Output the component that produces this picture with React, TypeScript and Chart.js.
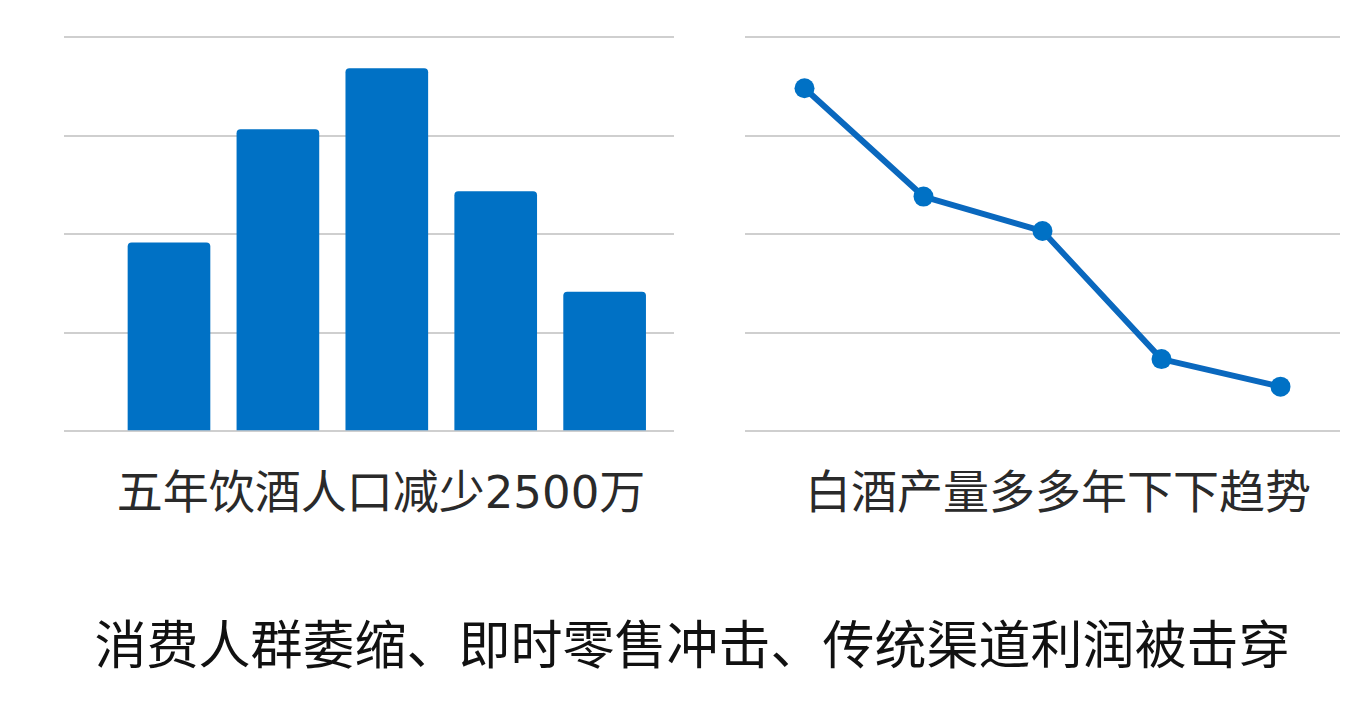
import React, { useEffect, useRef } from "react";
import { Chart, registerables } from "chart.js";

Chart.register(...registerables);

// Left chart: drinking population (relative units, gridline = 1)
const barPositions = [1, 2, 3, 4, 5];
const barValues = [1.91, 3.06, 3.68, 2.43, 1.41];

// Right chart: baijiu output trend (relative units)
const lineLabels = ["1", "2", "3", "4", "5"];
const lineValues = [3.48, 2.38, 2.03, 0.73, 0.45];

const leftTitle = "五年饮酒人口减少2500万";
const rightTitle = "白酒产量多多年下下趋势";
const caption = "消费人群萎缩、即时零售冲击、传统渠道利润被击穿";

const BLUE = "#0071C5";
const LINE_BLUE = "#0A68BE";
const GRID = "#CFCFCF";
const FONT = "'Noto Sans CJK SC', 'Noto Sans', sans-serif";

const yScale = {
  min: 0,
  max: 4,
  display: true,
  border: { display: false },
  ticks: { display: false, stepSize: 1 },
  grid: { color: GRID, lineWidth: 2, drawTicks: false },
};

function BarChart() {
  const ref = useRef<HTMLCanvasElement>(null);
  useEffect(() => {
    const chart = new Chart(ref.current!, {
      type: "bar",
      data: {
        datasets: [
          {
            data: barPositions.map((x, i) => ({ x, y: barValues[i] })),
            backgroundColor: BLUE,
            borderRadius: 4,
            barThickness: 82,
          },
        ],
      },
      options: {
        animation: false,
        responsive: true,
        maintainAspectRatio: false,
        layout: { autoPadding: false, padding: { top: 10, bottom: 10, left: 0, right: 0 } },
        plugins: { legend: { display: false }, tooltip: { enabled: false } },
        scales: {
          x: { type: "linear", min: 0.036, max: 5.637, offset: false, display: false },
          y: yScale as any,
        },
      },
    });
    return () => chart.destroy();
  }, []);
  return <canvas ref={ref} />;
}

function LineChart() {
  const ref = useRef<HTMLCanvasElement>(null);
  useEffect(() => {
    const chart = new Chart(ref.current!, {
      type: "line",
      data: {
        labels: lineLabels,
        datasets: [
          {
            data: lineValues,
            borderColor: LINE_BLUE,
            borderWidth: 6,
            pointRadius: 10,
            pointBackgroundColor: BLUE,
            pointBorderWidth: 0,
            tension: 0,
          },
        ],
      },
      options: {
        animation: false,
        responsive: true,
        maintainAspectRatio: false,
        layout: { autoPadding: false, padding: { top: 10, bottom: 10, left: 0, right: 0 } },
        plugins: { legend: { display: false }, tooltip: { enabled: false } },
        scales: {
          x: { type: "category", offset: true, display: false },
          y: yScale as any,
        },
      },
    });
    return () => chart.destroy();
  }, []);
  return <canvas ref={ref} />;
}

const titleStyle: React.CSSProperties = {
  position: "absolute",
  top: 463,
  width: 800,
  textAlign: "center",
  fontSize: 46,
  lineHeight: "50px",
  whiteSpace: "nowrap",
  color: "#2A2A2A",
};

// Digit runs use a font with wider numerals, like the reference
function renderTitle(text: string) {
  return text.split(/(\d+)/).map((part, i) =>
    /^\d+$/.test(part) ? (
      <span key={i} style={{ fontFamily: "'DejaVu Sans', sans-serif", fontSize: 45 }}>
        {part}
      </span>
    ) : (
      <span key={i}>{part}</span>
    )
  );
}

export default function App() {
  return (
    <div
      style={{
        position: "absolute",
        left: 0,
        top: 0,
        width: 1368,
        height: 716,
        background: "#fff",
        fontFamily: FONT,
        color: "#222",
        overflow: "hidden",
      }}
    >
      <div style={{ position: "absolute", left: 64, top: 27, width: 610, height: 414 }}>
        <BarChart />
      </div>
      <div style={{ position: "absolute", left: 745, top: 27, width: 595, height: 414 }}>
        <LineChart />
      </div>
      <div style={{ ...titleStyle, left: 381 - 400 }}>{renderTitle(leftTitle)}</div>
      <div style={{ ...titleStyle, left: 1058 - 400 }}>{rightTitle}</div>
      <div
        style={{
          position: "absolute",
          left: 0,
          top: 614,
          width: 1385,
          textAlign: "center",
          fontSize: 52,
          lineHeight: "56px",
          whiteSpace: "nowrap",
          color: "#111",
        }}
      >
        {caption}
      </div>
    </div>
  );
}
